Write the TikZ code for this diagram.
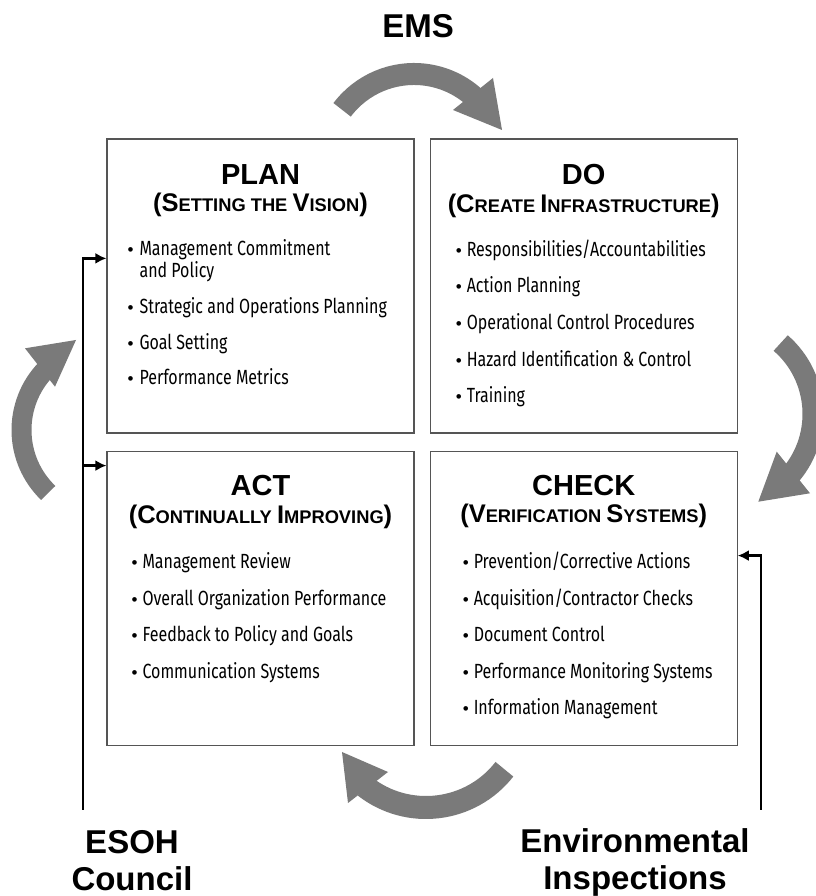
\documentclass[tikz,border=0pt]{standalone}
\usepackage{fontspec}
\setmainfont{Liberation Sans}
\newfontfamily\itemfont[FakeStretch=0.78]{Fira Sans}
\usetikzlibrary{positioning,arrows.meta}
\definecolor{arrowgray}{RGB}{122,122,122}
\definecolor{boxgray}{RGB}{85,85,85}
\newcommand{\capbig}[1]{{\fontsize{25.5}{25}\selectfont #1}}
\newcommand{\dotmark}{{\rmfamily\fontsize{17}{22}\selectfont\textbullet}}
\tikzset{
  box/.style={draw=boxgray, line width=1.2pt, minimum width=307pt,
    minimum height=294pt, inner sep=0pt},
  boxtitle/.style={font=\fontsize{29}{29}\selectfont\bfseries, inner sep=0pt, anchor=base},
  boxsub/.style={font=\fontsize{18.3}{18}\selectfont\bfseries, inner sep=0pt, anchor=base},
  items/.style={font=\fontsize{20.5}{22}\selectfont\itemfont, inner sep=0pt, anchor=base west},
  arcband/.style={draw=arrowgray, line width=22pt},
  bandhead/.style={fill=arrowgray},
  feedline/.style={draw=black, line width=2.6pt, -{Latex[length=11pt,width=11pt]}},
  bigtext/.style={font=\fontsize{33}{37}\selectfont\bfseries, align=center, inner sep=0pt}
}

\begin{document}
\begin{tikzpicture}[x=1pt, y=1pt]
  \fill[white] (0,0) rectangle (815,896);
  \useasboundingbox (0,0) rectangle (815,896);

  % the four quadrants
  \node [box] (plan) at (260.5,610) {};
  \node [box, right=15pt of plan] (do) {};
  \node [box, below=17pt of plan] (act) {};
  \node [box, below=17pt of do] (check) {};

  \node [boxtitle] (plantitle) at ([yshift=-46pt]plan.north) {PLAN};
  \node [boxsub] (plansub) at ([yshift=-73pt]plan.north)
    {\capbig{(}\capbig{S}ETTING THE \capbig{V}ISION\capbig{)}};
  \node [items] (planlist) at ([xshift=21pt,yshift=-117pt]plan.north west)
    {\begin{tabular}[t]{@{}l@{\hspace{6pt}}l@{}}
      \dotmark & Management Commitment\\ & and Policy\\[13pt]
      \dotmark & Strategic and Operations Planning\\[13pt]
      \dotmark & Goal Setting\\[13pt]
      \dotmark & Performance Metrics
    \end{tabular}};

  \node [boxtitle] (dotitle) at ([yshift=-46pt]do.north) {DO};
  \node [boxsub] (dosub) at ([yshift=-74pt]do.north)
    {\capbig{(}\capbig{C}REATE \capbig{I}NFRASTRUCTURE\capbig{)}};
  \node [items] (dolist) at ([xshift=26pt,yshift=-118pt]do.north west)
    {\begin{tabular}[t]{@{}l@{\hspace{5pt}}l@{}}
      \dotmark & Responsibilities/Accountabilities\\[14pt]
      \dotmark & Action Planning\\[14pt]
      \dotmark & Operational Control Procedures\\[14pt]
      \dotmark & Hazard Identification \& Control\\[14pt]
      \dotmark & Training
    \end{tabular}};

  \node [boxtitle] (acttitle) at ([yshift=-45pt]act.north) {ACT};
  \node [boxsub] (actsub) at ([yshift=-73pt]act.north)
    {\capbig{(}\capbig{C}ONTINUALLY \capbig{I}MPROVING\capbig{)}};
  \node [items] (actlist) at ([xshift=25pt,yshift=-118pt]act.north west)
    {\begin{tabular}[t]{@{}l@{\hspace{5pt}}l@{}}
      \dotmark & Management Review\\[14pt]
      \dotmark & Overall Organization Performance\\[14pt]
      \dotmark & Feedback to Policy and Goals\\[14pt]
      \dotmark & Communication Systems
    \end{tabular}};

  \node [boxtitle] (checktitle) at ([yshift=-45pt]check.north) {CHECK};
  \node [boxsub] (checksub) at ([yshift=-72pt]check.north)
    {\capbig{(}\capbig{V}ERIFICATION \capbig{S}YSTEMS\capbig{)}};
  \node [items] (checklist) at ([xshift=33pt,yshift=-118pt]check.north west)
    {\begin{tabular}[t]{@{}l@{\hspace{5pt}}l@{}}
      \dotmark & Prevention/Corrective Actions\\[14pt]
      \dotmark & Acquisition/Contractor Checks\\[14pt]
      \dotmark & Document Control\\[14pt]
      \dotmark & Performance Monitoring Systems\\[14pt]
      \dotmark & Information Management
    \end{tabular}};

  % outer labels
  \node [bigtext, anchor=base] (ems) at (418,858) {EMS};
  \node [bigtext, anchor=north] (esoh) at (132,66) {ESOH\\Council};
  \node [bigtext, anchor=north] (envinsp) at (635,68) {Environmental\\Inspections};

  % feed lines into the cycle
  \coordinate (esohfoot) at (83,86);
  \coordinate (envfoot) at (761,86);
  \draw [feedline] (esohfoot) |- ([yshift=-120pt]plan.north west);
  \draw [feedline] (esohfoot) |- ([yshift=-15pt]act.north west);
  \draw [feedline] (envfoot) |- ([yshift=-105pt]check.north east);

  % big gray cycle arrows
  \draw [arcband] (414,732) ++(143:90) arc [start angle=143, end angle=48, radius=90];
  \fill [bandhead] (493,818) -- (502,766) -- (453,786) -- cycle;
  \draw [arcband, line width=21pt] (719,482) ++(49:94) arc [start angle=49, end angle=-40, radius=94];
  \fill [bandhead] (776.7,444.3) -- (810,402.7) -- (758.3,394.3) -- cycle;
  \draw [arcband, line width=23pt] (426,188) ++(-38:99.5) arc [start angle=-38, end angle=-128, radius=99.5];
  \fill [bandhead] (388,124) -- (348,93) -- (342,144) -- cycle;
  \draw [arcband, line width=20pt] (109,466) ++(226:87.5) arc [start angle=226, end angle=136, radius=87.5];
  \fill [bandhead] (25,547.7) -- (55,509.3) -- (76,556) -- cycle;
\end{tikzpicture}
\end{document}
